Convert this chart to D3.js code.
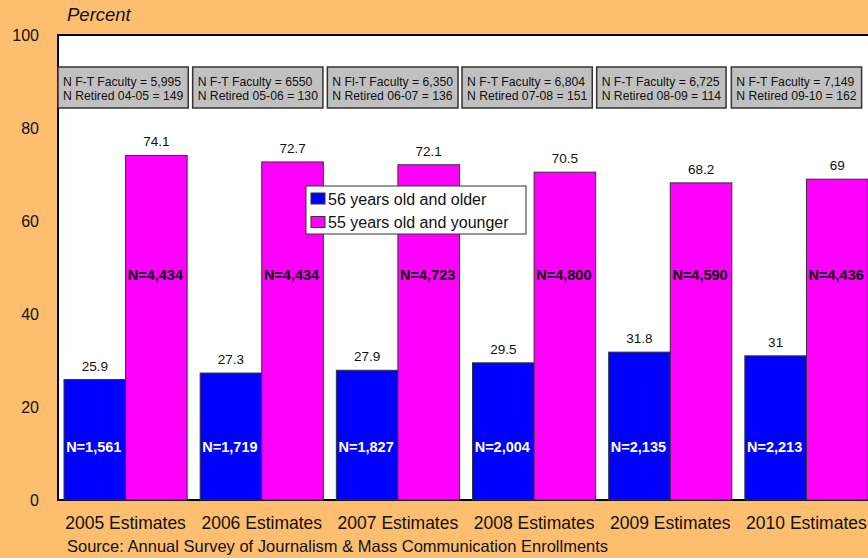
<!DOCTYPE html>
<html><head><meta charset="utf-8">
<script src="https://cdn.jsdelivr.net/npm/d3@7"></script>
<style>
html,body{margin:0;padding:0;background:#FDBF6F;}
text{font-family:Arial,"Liberation Sans",sans-serif;}
</style></head>
<body>
<svg id="chart" width="868" height="558"></svg>
<script>
const categories = ["2005 Estimates","2006 Estimates","2007 Estimates","2008 Estimates","2009 Estimates","2010 Estimates"];
const seriesNames = ["56 years old and older","55 years old and younger"];
const olderValues = [25.9, 27.3, 27.9, 29.5, 31.8, 31];
const youngerValues = [74.1, 72.7, 72.1, 70.5, 68.2, 69];
const olderCounts = ["N=1,561","N=1,719","N=1,827","N=2,004","N=2,135","N=2,213"];
const youngerCounts = ["N=4,434","N=4,434","N=4,723","N=4,800","N=4,590","N=4,436"];
const facultyLines = ["N F-T Faculty = 5,995","N F-T Faculty = 6550","N Fl-T Faculty = 6,350","N F-T Faculty = 6,804","N F-T Faculty = 6,725","N F-T Faculty = 7,149"];
const retiredLines = ["N Retired 04-05 = 149","N Retired 05-06 = 130","N Retired 06-07 = 136","N Retired 07-08 = 151","N Retired 08-09 = 114","N Retired 09-10 = 162"];
const yTicks = [0,20,40,60,80,100];
const colors = ["#0000FF","#FF00FF"];

const svg = d3.select("#chart");
const y = d3.scaleLinear().domain([0,100]).range([500,35]);
const x0 = d3.scaleBand().domain(categories).range([58,874]).paddingInner(0.0956).paddingOuter(0.044);
const x1 = d3.scaleBand().domain(seriesNames).range([0,x0.bandwidth()]);

// background
svg.append("rect").attr("width",868).attr("height",558).attr("fill","#FDBF6F");
// plot area
svg.append("rect").attr("x",58).attr("y",y(100)).attr("width",830).attr("height",y(0)-y(100))
  .attr("fill","#fff").attr("stroke","#000").attr("stroke-width",2);

// y tick labels
svg.append("g").selectAll("text").data(yTicks).join("text")
  .attr("x",39).attr("y",d=>y(d)).attr("dy","0.36em").attr("text-anchor","end")
  .attr("font-size",16).attr("fill","#111").text(d=>d);
svg.append("text").attr("x",67).attr("y",21).attr("font-size",18.5).attr("font-style","italic")
  .attr("fill","#111").text("Percent");

// bars
const data = categories.map((c,i)=>({c,i,vals:[olderValues[i],youngerValues[i]],counts:[olderCounts[i],youngerCounts[i]]}));
const groups = svg.append("g").selectAll("g").data(data).join("g")
  .attr("transform",d=>`translate(${x0(d.c)},0)`);
groups.selectAll("rect").data(d=>d.vals.map((v,k)=>({v,k,n:d.counts[k]}))).join("rect")
  .attr("x",d=>x1(seriesNames[d.k])).attr("width",x1.bandwidth())
  .attr("y",d=>y(d.v)).attr("height",d=>y(0)-y(d.v))
  .attr("fill",d=>colors[d.k]).attr("stroke","#333").attr("stroke-width",1);
groups.selectAll("text.val").data(d=>d.vals.map((v,k)=>({v,k}))).join("text").attr("class","val")
  .attr("x",d=>x1(seriesNames[d.k])+x1.bandwidth()/2).attr("y",d=>y(d.v)-9)
  .attr("text-anchor","middle").attr("font-size",13.5).attr("fill","#111").text(d=>d.v);
groups.selectAll("text.n").data(d=>d.vals.map((v,k)=>({v,k,n:d.counts[k]}))).join("text").attr("class","n")
  .attr("x",d=>x1(seriesNames[d.k])+x1.bandwidth()/2-1)
  .attr("y",d=>d.k===0?y(11.5):y(48.4)).attr("dy","0.36em")
  .attr("text-anchor","middle").attr("font-size",14.5).attr("font-weight","bold")
  .attr("fill",d=>d.k===0?"#fff":"#000").text(d=>d.n);

// annotation boxes
const ann = svg.append("g").selectAll("g").data(data).join("g")
  .attr("transform",d=>`translate(${x0(d.c)-6-d.i*1.5},67)`);
ann.each(function(d){
  const g = d3.select(this);
  const r = g.append("rect").attr("fill","#C0C0C0").attr("stroke","#333").attr("stroke-width",1.5);
  const t1 = g.append("text").attr("x",5).attr("y",19).attr("font-size",12.2).attr("fill","#111").text(facultyLines[d.i]);
  const t2 = g.append("text").attr("x",5).attr("y",33).attr("font-size",12.2).attr("fill","#111").text(retiredLines[d.i]);
  const w = Math.max(t1.node().getComputedTextLength(), t2.node().getComputedTextLength());
  r.attr("width",w+10).attr("height",41);
});

// legend
const lg = svg.append("g").attr("transform","translate(306,186)");
lg.append("rect").attr("width",220).attr("height",48).attr("fill","#fff").attr("stroke","#333");
seriesNames.forEach((s,k)=>{
  lg.append("rect").attr("x",5).attr("y",7+k*23.5).attr("width",14).attr("height",11)
    .attr("fill",colors[k]).attr("stroke","#333");
  lg.append("text").attr("x",22).attr("y",13+k*23.5).attr("dy","0.36em").attr("font-size",16)
    .attr("fill","#111").text(s);
});

// category labels
svg.append("g").selectAll("text").data(categories).join("text")
  .attr("x",d=>x0(d)+x0.bandwidth()/2).attr("y",529).attr("text-anchor","middle")
  .attr("font-size",17.5).attr("fill","#111").text(d=>d);
svg.append("text").attr("x",67).attr("y",552).attr("font-size",16.5).attr("fill","#111")
  .text("Source: Annual Survey of Journalism & Mass Communication Enrollments");
</script>
</body></html>
